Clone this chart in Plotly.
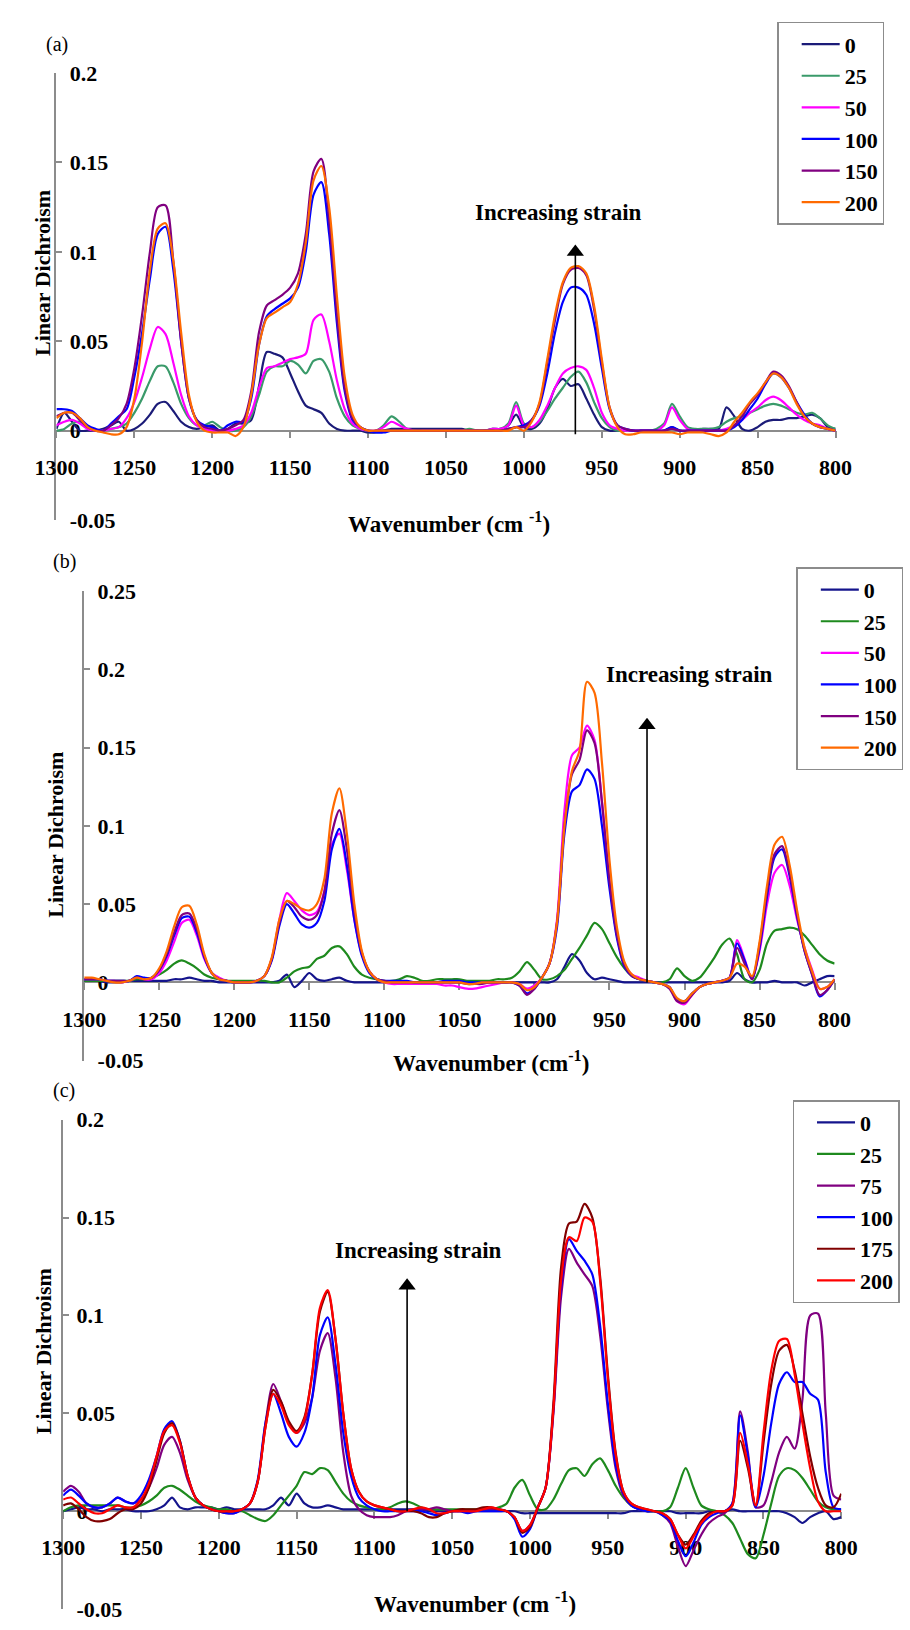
import plotly.graph_objects as go

FIG_W, FIG_H = 910, 1630
FONT = "Liberation Serif"

# shared wavenumber grid (cm-1), 1300 -> 800 step 5
W = list(range(1300, 799, -5))

# ---------------- Panel (a) ----------------
A_LABELS = ["0", "25", "50", "100", "150", "200"]
A_COLORS = ["#1b1b78", "#3a9a6a", "#ff00ff", "#0000ff", "#800080", "#ff6a00"]
A0 = [.001,.010,.005,.000,.000,.000,.001,.003,.005,.000,
      .001,.004,.009,.015,.016,.011,.005,.002,.001,.002,
      .003,.000,.001,.004,.004,.006,.025,.044,.043,.041,
      .032,.022,.014,.012,.010,.004,.001,.000,.000,.000,
      -.001,-.001,.000,.001,.001,.001,.001,.001,.001,.001,
      .001,.001,.001,.000,.000,.000,.001,.001,.003,.009,
      .002,.001,.004,.012,.024,.029,.025,.026,.018,.009,
      .002,.000,.000,.000,.000,.000,.000,.000,.000,.002,
      .000,.000,.000,.001,.001,.001,.013,.008,.001,.000,
      .002,.005,.006,.006,.007,.007,.008,.009,.007,.002,
      .001]
A1 = [.000,.001,.004,.005,.002,.000,.000,.001,.002,.004,
      .010,.018,.028,.036,.036,.027,.015,.007,.003,.003,
      .005,.002,.000,.000,.002,.008,.020,.033,.036,.036,
      .039,.037,.032,.039,.040,.033,.018,.008,.003,.001,
      .000,.000,.003,.008,.005,.001,.000,.000,.000,.000,
      .000,.000,.000,.001,.000,.000,.001,.001,.004,.016,
      .004,.002,.005,.011,.018,.024,.030,.033,.027,.016,
      .007,.002,.000,.000,.000,.000,.000,.001,.004,.015,
      .008,.002,.001,.001,.001,.002,.005,.007,.008,.010,
      .012,.014,.015,.014,.012,.010,.009,.010,.007,.003,
      .001]
A2 = [.003,.005,.006,.004,.001,.000,.000,.001,.002,.007,
      .016,.030,.046,.058,.054,.038,.020,.008,.003,.001,
      .000,.000,.000,.001,.003,.010,.024,.035,.036,.038,
      .040,.041,.043,.062,.065,.050,.028,.012,.004,.001,
      .000,.000,.002,.005,.003,.001,.000,.000,.000,.000,
      .000,.000,.000,.000,.000,.000,.001,.001,.003,.014,
      .003,.002,.006,.014,.024,.032,.035,.036,.034,.024,
      .010,.003,.001,.000,.000,.000,.000,.000,.003,.013,
      .006,.001,.000,.000,.000,.000,.001,.003,.006,.010,
      .013,.017,.019,.017,.013,.009,.006,.004,.003,.001,
      .000]
A3 = [.012,.012,.011,.007,.003,.001,.000,.004,.008,.012,
      .030,.055,.085,.110,.114,.090,.050,.018,.006,.003,
      .002,.000,.003,.005,.005,.018,.048,.064,.068,.071,
      .074,.080,.100,.132,.139,.110,.060,.022,.006,.002,
      .000,-.001,-.001,.000,.000,.000,.000,.000,.000,.000,
      .000,.000,.000,.000,.000,.000,.000,.000,.001,.002,
      .003,.006,.014,.032,.055,.072,.080,.080,.076,.060,
      .035,.012,.003,.001,.000,.000,.000,.000,.000,.002,
      .000,.000,.000,.000,.000,.000,.000,.002,.006,.012,
      .018,.026,.032,.030,.024,.016,.009,.004,.002,.001,
      .000]
A4 = [.008,.010,.010,.006,.002,.000,.000,.003,.007,.015,
      .035,.065,.100,.125,.126,.095,.050,.018,.006,.002,
      .001,.000,.001,.003,.006,.022,.055,.070,.073,.076,
      .080,.088,.110,.145,.152,.118,.065,.024,.007,.002,
      .000,.000,.000,.000,.000,.000,.000,.000,.000,.000,
      .000,.000,.000,.000,.000,.000,.000,.000,.001,.002,
      .002,.006,.015,.038,.062,.082,.090,.091,.087,.068,
      .038,.013,.003,.001,.000,.000,.000,.000,.000,.001,
      .000,.000,.000,.000,.000,.000,.000,.003,.008,.015,
      .020,.027,.033,.031,.025,.016,.008,.004,.002,.001,
      .000]
A5 = [.007,.010,.010,.007,.002,.000,-.001,-.002,-.002,.002,
      .018,.050,.090,.113,.116,.095,.055,.020,.005,.000,
      -.001,-.001,-.001,-.003,.002,.020,.048,.063,.066,.069,
      .072,.082,.105,.140,.148,.125,.075,.030,.009,.002,
      .000,.000,.000,.000,.000,.000,.000,.000,.000,.000,
      .000,.000,.000,.000,.000,.000,.000,.000,.000,.002,
      .000,.005,.016,.040,.065,.083,.091,.092,.088,.070,
      .040,.013,.002,-.002,-.002,-.001,-.001,-.001,-.001,-.001,
      -.002,-.001,-.001,-.001,-.002,-.003,-.001,.005,.010,.016,
      .021,.027,.032,.030,.024,.015,.008,.004,.002,.001,
      .000]

# ---------------- Panel (b) ----------------
B_LABELS = ["0", "25", "50", "100", "150", "200"]
B_COLORS = ["#14148c", "#1e8a1e", "#ff00ff", "#0000ff", "#800080", "#ff6a00"]
B0 = [.001,.001,.001,.000,.000,.000,.001,.001,.001,.001,
      .001,.001,.002,.002,.003,.002,.001,.001,.000,.000,
      .000,.000,.000,.000,.000,.000,.001,.005,-.003,.001,
      .006,.002,.001,.002,.003,.001,.000,.000,.000,.000,
      .000,.000,.000,.000,.000,.000,.000,.000,.000,.000,
      .000,.000,.000,.000,.000,.000,.000,.000,.000,.000,
      .000,.000,.000,.002,.010,.018,.014,.006,.002,.003,
      .002,.001,.000,.000,.000,.000,.000,.000,.000,.000,
      .000,.000,.000,.000,.000,.000,.001,.006,.002,.000,
      .000,.000,.001,.000,.000,.000,-.002,.000,.002,.004,
      .004]
B1 = [.001,.001,.001,.001,.001,.001,.001,.002,.002,.003,
      .005,.008,.012,.014,.012,.009,.005,.003,.002,.001,
      .001,.001,.001,.001,.001,.000,.000,.003,.007,.009,
      .010,.015,.017,.022,.023,.018,.010,.005,.003,.002,
      .001,.001,.002,.004,.003,.001,.001,.002,.002,.002,
      .002,.001,.001,.001,.001,.002,.002,.003,.007,.013,
      .008,.002,.002,.004,.008,.015,.022,.030,.038,.034,
      .025,.016,.009,.004,.002,.001,.000,.000,.002,.009,
      .004,.001,.003,.009,.016,.024,.028,.018,.002,.000,
      .008,.025,.033,.034,.035,.034,.030,.024,.018,.014,
      .012]
B2 = [.002,.002,.002,.001,.001,.000,.001,.003,.002,.002,
      .006,.014,.026,.038,.040,.030,.015,.006,.003,.001,
      .000,.000,.000,.001,.004,.015,.040,.057,.052,.046,
      .043,.045,.058,.088,.095,.072,.040,.018,.007,.002,
      .000,-.001,-.001,-.001,-.001,-.001,-.001,-.001,-.002,-.002,
      -.003,-.004,-.004,-.003,-.002,-.001,.000,.000,-.001,-.004,
      -.002,.003,.012,.040,.110,.145,.150,.164,.155,.115,
      .065,.030,.012,.005,.003,.001,.000,-.001,-.003,-.012,
      -.014,-.008,-.003,-.001,.000,.001,.003,.027,.015,.002,
      .020,.050,.070,.075,.062,.040,.022,.008,-.004,-.003,
      .002]
B3 = [.002,.002,.002,.001,.001,.001,.001,.004,.003,.003,
      .008,.017,.030,.041,.042,.032,.016,.006,.002,.001,
      .000,.000,.000,.001,.004,.014,.036,.050,.044,.037,
      .035,.038,.052,.085,.098,.075,.040,.017,.006,.002,
      .001,.001,.001,.001,.000,.000,.000,.000,.001,.001,
      .001,.000,.000,.000,.000,.000,.000,.000,-.002,-.007,
      -.004,.003,.012,.035,.095,.122,.126,.136,.130,.100,
      .060,.028,.010,.004,.002,.001,.000,-.001,-.003,-.011,
      -.012,-.007,-.003,-.001,.000,.001,.003,.025,.014,.002,
      .022,.055,.080,.085,.068,.042,.020,.005,-.009,-.005,
      .002]
B4 = [.002,.002,.002,.001,.001,.001,.001,.003,.002,.003,
      .008,.018,.032,.043,.044,.034,.017,.006,.002,.001,
      .000,.000,.000,.001,.004,.015,.038,.052,.048,.042,
      .040,.043,.058,.095,.110,.085,.045,.019,.007,.002,
      .001,.000,.000,.000,.000,.000,.000,.000,.000,.000,
      .000,-.001,-.001,-.001,.000,.000,.000,.000,-.002,-.008,
      -.004,.003,.012,.038,.100,.133,.142,.161,.153,.115,
      .065,.030,.011,.004,.002,.001,.000,-.001,-.004,-.012,
      -.013,-.008,-.003,-.001,.000,.001,.003,.022,.012,.002,
      .024,.058,.082,.087,.070,.043,.020,.005,-.008,-.005,
      .002]
B5 = [.003,.003,.002,.001,.000,.000,.001,.003,.002,.003,
      .009,.020,.036,.048,.049,.037,.018,.006,.002,.001,
      .000,.000,.000,.001,.004,.016,.040,.052,.050,.047,
      .046,.050,.066,.108,.124,.095,.050,.020,.007,.002,
      .000,.000,.000,.000,.000,.000,.000,.000,.000,.000,
      .000,-.001,-.001,.000,.000,.000,.000,.000,-.001,-.005,
      -.003,.003,.012,.038,.100,.135,.148,.192,.185,.140,
      .078,.035,.013,.005,.002,.001,.000,-.001,-.003,-.010,
      -.012,-.007,-.003,-.001,.000,.001,.003,.012,.010,.004,
      .026,.062,.088,.093,.075,.046,.022,.007,-.004,-.003,
      .002]

# ---------------- Panel (c) ----------------
C_LABELS = ["0", "25", "75", "100", "175", "200"]
C_COLORS = ["#14148c", "#1e8a1e", "#800080", "#0000ff", "#800000", "#ff0000"]
C0 = [.000,.001,.002,.001,.001,.000,.001,.001,.001,.000,
      .000,.000,.001,.003,.007,.002,.001,.002,.002,.002,
      .001,.002,.001,.001,.001,.001,.001,.003,.007,.003,
      .009,.004,.002,.002,.003,.002,.001,.001,.001,.001,
      .001,.001,.001,.001,.001,.001,.001,.000,.000,.000,
      .000,.000,.000,.000,.000,.000,.000,.000,.000,-.001,
      -.001,-.001,-.001,-.001,-.001,-.001,-.001,-.001,-.001,-.001,
      -.001,-.001,-.001,.000,.000,.000,.000,.000,.000,-.001,
      -.001,-.001,-.001,.000,.000,.000,.001,.000,.000,.000,
      .000,.000,.000,-.001,-.003,-.006,-.003,-.001,.000,-.004,
      -.003]
C1 = [.000,.002,.003,.003,.003,.003,.003,.003,.002,.002,
      .003,.005,.008,.012,.013,.011,.008,.005,.003,.002,
      .001,.001,.000,.000,-.002,-.004,-.005,-.002,.003,.008,
      .013,.020,.019,.022,.021,.015,.009,.005,.003,.002,
      .001,.001,.002,.004,.005,.004,.002,.001,.001,.001,
      .001,.001,.001,.001,.001,.001,.002,.004,.012,.016,
      .008,.001,.001,.006,.014,.021,.022,.018,.024,.027,
      .021,.013,.007,.003,.001,.000,.000,.000,.002,.012,
      .022,.012,.003,.001,.000,-.002,-.006,-.014,-.022,-.024,
      -.012,.004,.018,.022,.021,.017,.011,.005,.002,.001,
      .001]
C2 = [.010,.013,.010,.004,.002,.002,.004,.007,.005,.004,
      .006,.012,.022,.034,.038,.030,.016,.007,.003,.001,
      .000,-.001,-.001,.001,.004,.015,.045,.065,.056,.045,
      .040,.045,.058,.082,.091,.068,.030,.008,.001,-.002,
      -.003,-.003,-.003,-.002,.000,.001,.001,.001,.002,.001,
      .000,.000,.000,.000,.001,.001,.001,.000,-.003,-.010,
      -.007,.002,.012,.050,.110,.134,.127,.121,.115,.090,
      .052,.022,.008,.003,.001,.000,.000,-.002,-.006,-.018,
      -.028,-.020,-.012,-.006,-.003,-.001,.004,.051,.030,.002,
      .003,.015,.030,.038,.032,.057,.100,.101,.050,.008,
      .006]
C3 = [.008,.011,.008,.004,.002,.002,.004,.007,.005,.004,
      .008,.016,.028,.042,.046,.036,.018,.007,.003,.001,
      .000,-.001,-.001,.001,.004,.016,.045,.060,.050,.038,
      .033,.040,.058,.090,.099,.075,.040,.018,.007,.003,
      .001,.000,.000,.000,.000,.000,.000,-.001,-.002,-.001,
      .000,.000,-.001,.000,.000,.000,.000,.000,-.004,-.013,
      -.009,.002,.012,.052,.115,.139,.133,.128,.121,.095,
      .055,.024,.009,.003,.001,.000,.000,-.002,-.005,-.015,
      -.023,-.016,-.007,-.003,-.001,.000,.004,.049,.028,.002,
      .018,.045,.065,.071,.066,.066,.060,.057,.020,.002,
      .001]
C4 = [.003,.004,.001,-.003,-.005,-.005,-.004,-.001,.001,.001,
      .004,.012,.026,.040,.045,.036,.018,.007,.003,.001,
      .000,.000,.000,.001,.004,.015,.043,.062,.056,.046,
      .041,.048,.070,.102,.112,.088,.050,.022,.010,.005,
      .003,.002,.001,.000,.000,.000,-.001,-.003,-.003,-.001,
      .000,.001,.001,.001,.002,.002,.001,.000,-.003,-.011,
      -.008,.002,.012,.055,.125,.147,.148,.157,.150,.120,
      .070,.030,.010,.004,.002,.001,.000,-.001,-.004,-.012,
      -.017,-.012,-.005,-.001,.000,.000,.003,.036,.022,.003,
      .035,.065,.082,.085,.072,.050,.028,.012,.003,.002,
      .009]
C5 = [.006,.007,.004,.001,-.001,-.001,.001,.003,.002,.002,
      .006,.014,.028,.041,.044,.035,.018,.007,.003,.001,
      .000,.000,.000,.001,.004,.015,.043,.060,.054,.044,
      .040,.047,.070,.104,.113,.088,.050,.022,.010,.005,
      .003,.002,.001,.000,.000,.001,.002,.001,-.001,-.001,
      .000,.000,.000,.000,.001,.002,.001,.000,-.003,-.010,
      -.007,.002,.012,.052,.118,.140,.138,.150,.148,.118,
      .068,.029,.010,.004,.002,.001,.000,-.001,-.004,-.012,
      -.019,-.013,-.006,-.002,.000,.000,.003,.040,.024,.003,
      .040,.072,.087,.088,.070,.045,.022,.005,.000,.000,
      .000]

X_TICKS = [1300, 1250, 1200, 1150, 1100, 1050, 1000, 950, 900, 850, 800]
X_TICKTEXT = [str(v) for v in X_TICKS]
Y_TICKS_A = [-0.05, 0, 0.05, 0.1, 0.15, 0.2]
Y_TEXT_A = ["-0.05", "0", "0.05", "0.1", "0.15", "0.2"]
Y_TICKS_B = [-0.05, 0, 0.05, 0.1, 0.15, 0.2, 0.25]
Y_TEXT_B = ["-0.05", "0", "0.05", "0.1", "0.15", "0.2", "0.25"]

# "Increasing strain" arrows: wavenumber, tail value, tip value
ARROW_W = [967, 925, 1079]
ARROW_FROM = [-0.002, 0.0, 0.0]
ARROW_TO = [0.104, 0.169, 0.119]

def px(x):
    return x / FIG_W

def py(y):
    return 1 - y / FIG_H

# panel geometry in pixels
PANELS = [
    dict(xl=36, xr=850, yt=62, yb=516, ymin=-0.05, ymax=0.2),
    dict(xl=65, xr=849, yt=588, yb=1065, ymin=-0.05, ymax=0.25),
    dict(xl=43, xr=856, yt=1125, yb=1622, ymin=-0.05, ymax=0.2),
]

fig = go.Figure()
series = [
    (A_LABELS, A_COLORS, [A0, A1, A2, A3, A4, A5]),
    (B_LABELS, B_COLORS, [B0, B1, B2, B3, B4, B5]),
    (C_LABELS, C_COLORS, [C0, C1, C2, C3, C4, C5]),
]
for p, (labels, colors, data) in enumerate(series):
    sfx = "" if p == 0 else str(p + 1)
    for lab, col, vals in zip(labels, colors, data):
        assert len(vals) == len(W), (p, lab, len(vals))
        fig.add_trace(go.Scatter(
            x=W, y=vals, name=lab, mode="lines",
            line=dict(color=col, width=2.2, shape="spline", smoothing=0.8),
            xaxis="x" + sfx, yaxis="y" + sfx, legend="legend" + sfx,
        ))

# arrows drawn as a shaft + triangle head
HEAD = 15  # marker size in px
for p, g in enumerate(PANELS):
    sfx = "" if p == 0 else str(p + 1)
    unit_per_px = (g["ymax"] - g["ymin"]) / (g["yb"] - g["yt"])
    tip = ARROW_TO[p]
    head_c = tip - (HEAD / 2) * unit_per_px
    fig.add_trace(go.Scatter(
        x=[ARROW_W[p], ARROW_W[p]], y=[ARROW_FROM[p], head_c], mode="lines",
        line=dict(color="black", width=1.6), showlegend=False, hoverinfo="skip",
        xaxis="x" + sfx, yaxis="y" + sfx))
    fig.add_trace(go.Scatter(
        x=[ARROW_W[p]], y=[head_c], mode="markers",
        marker=dict(symbol="triangle-up", size=HEAD, color="black", line=dict(width=0)),
        showlegend=False, hoverinfo="skip", xaxis="x" + sfx, yaxis="y" + sfx))

tickfont = dict(family=FONT, size=22, color="black", weight="bold")
layout = dict(width=FIG_W, height=FIG_H, margin=dict(l=0, r=0, t=0, b=0),
              plot_bgcolor="white", paper_bgcolor="white")
for p, g in enumerate(PANELS):
    sfx = "" if p == 0 else str(p + 1)
    ydom = [py(g["yb"]), py(g["yt"])]
    zero_pos = ydom[0] + (0 - g["ymin"]) / (g["ymax"] - g["ymin"]) * (ydom[1] - ydom[0])
    yt = Y_TICKS_B if p == 1 else Y_TICKS_A
    ytt = Y_TEXT_B if p == 1 else Y_TEXT_A
    layout["xaxis" + sfx] = dict(
        domain=[px(g["xl"]), px(g["xr"])], range=[1300, 800], anchor="free",
        position=zero_pos, showline=True, linecolor="#8c8c8c", linewidth=1.5,
        ticks="outside", ticklen=7, tickwidth=1.5, tickcolor="#8c8c8c",
        tickvals=X_TICKS, ticktext=X_TICKTEXT, tickfont=tickfont,
        ticklabelstandoff=10, showgrid=False, zeroline=False, layer="below traces")
    layout["yaxis" + sfx] = dict(
        domain=ydom, range=[g["ymin"], g["ymax"]], anchor="x" + sfx,
        showline=True, linecolor="#8c8c8c", linewidth=1.5,
        ticks="inside", ticklen=6, tickwidth=1.5, tickcolor="#8c8c8c",
        tickvals=yt, ticktext=ytt, tickfont=tickfont,
        ticklabelposition="inside", ticklabeloverflow="allow", ticklabelstandoff=9,
        showgrid=False, zeroline=False, layer="below traces")

legend_pos = [(789, 10), (809, 564), (805, 1105)]
for p, (lx, ly) in enumerate(legend_pos):
    sfx = "" if p == 0 else str(p + 1)
    layout["legend" + sfx] = dict(
        x=px(lx), y=py(ly), xanchor="left", yanchor="top",
        bgcolor="white", bordercolor="#8c8c8c", borderwidth=1.5,
        font=dict(family=FONT, size=22, color="black", weight="bold"),
        traceorder="normal", tracegroupgap=0, indentation=18, itemwidth=38)

fig.update_layout(**layout)

bold = dict(family=FONT, size=23, color="black", weight="bold")
texts = [
    ("Increasing strain", 560, 204, 0, bold),
    ("Increasing strain", 697, 673, 0, bold),
    ("Increasing strain", 414, 1258, 0, bold),
    ("(a)", 37, 33, 0, dict(family=FONT, size=20, color="black")),
    ("(b)", 44, 558, 0, dict(family=FONT, size=20, color="black")),
    ("(c)", 44, 1095, 0, dict(family=FONT, size=20, color="black")),
    ("Linear Dichroism", 22, 265, -90, dict(family=FONT, size=22, color="black", weight="bold")),
    ("Linear Dichroism", 35, 836, -90, dict(family=FONT, size=22, color="black", weight="bold")),
    ("Linear Dichroism", 22, 1360, -90, dict(family=FONT, size=22, color="black", weight="bold")),
    ("Wavenumber (cm <sup>-1</sup>)", 446, 518, 0, dict(family=FONT, size=23, color="black", weight="bold")),
    ("Wavenumber (cm<sup>-1</sup>)", 490, 1066, 0, dict(family=FONT, size=23, color="black", weight="bold")),
    ("Wavenumber (cm <sup>-1</sup>)", 473, 1615, 0, dict(family=FONT, size=23, color="black", weight="bold")),
]
for t, x, y, ang, f in texts:
    fig.add_annotation(text=t, x=px(x), y=py(y), xref="paper", yref="paper",
                       showarrow=False, textangle=ang, font=f,
                       xanchor="center", yanchor="middle")

fig.write_html("out.html",
               config={"displayModeBar": False},
               post_script="document.body.style.margin='0px';document.body.style.padding='0px';")
